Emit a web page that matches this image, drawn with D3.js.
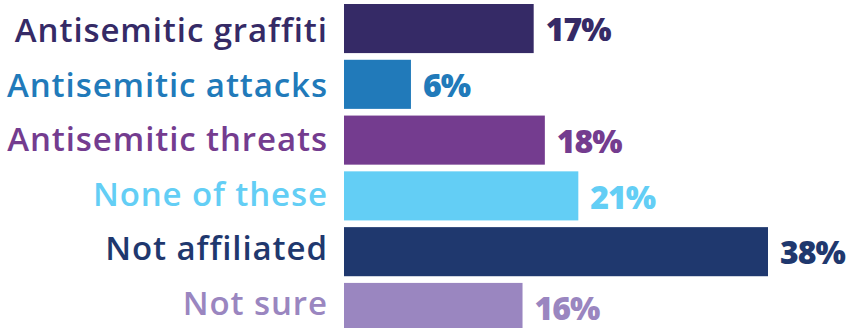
<!DOCTYPE html>
<html>
<head>
<meta charset="utf-8">
<script src="https://cdn.jsdelivr.net/npm/d3@7"></script>
<style>
  html, body { margin: 0; padding: 0; background: #ffffff; }
  svg { display: block; }
  text { font-variant-ligatures: none; }
</style>
</head>
<body>
<svg id="chart" width="859" height="328"></svg>
<script>
const categories = ["Antisemitic graffiti", "Antisemitic attacks", "Antisemitic threats", "None of these", "Not affiliated", "Not sure"];
const values = [17, 6, 18, 21, 38, 16];
const colors = ["#352a66", "#217aba", "#743c8f", "#63cef5", "#1f386e", "#9a86c0"];

const width = 859, height = 328;
const svg = d3.select("#chart");

const x = d3.scaleLinear().domain([0, 38]).range([344, 768]);
const y = d3.scaleBand().domain(categories).range([4, 332]).paddingInner(0.12).paddingOuter(0);
// baselines of the category names run on a slightly tighter rhythm than the bars
const labelY = d3.scalePoint().domain(categories).range([42, 315]);

const rows = categories.map((c, i) => ({ c, v: values[i], col: colors[i] }));

svg.selectAll("rect.bar").data(rows).join("rect")
  .attr("class", "bar")
  .attr("x", x(0))
  .attr("y", d => y(d.c))
  .attr("width", d => x(d.v) - x(0))
  .attr("height", y.bandwidth())
  .attr("fill", d => d.col);

// category names, right-aligned against the bars (letter-spacing trails the last glyph)
const catSpacing = 0.9;
svg.selectAll("text.cat").data(rows).join("text")
  .attr("class", "cat")
  .attr("x", x(0) - 17 + catSpacing)
  .attr("y", d => labelY(d.c))
  .attr("text-anchor", "end")
  .attr("font-family", "'Open Sans', sans-serif")
  .attr("font-weight", 600)
  .attr("font-size", 33)
  .attr("letter-spacing", catSpacing)
  .attr("fill", d => d.col)
  .text(d => d.c);

svg.selectAll("text.val").data(rows).join("text")
  .attr("class", "val")
  .attr("x", d => x(d.v) + 12)
  .attr("y", d => y(d.c) + y.bandwidth() / 2)
  .attr("dy", "0.4em")
  .attr("font-family", "'Open Sans', sans-serif")
  .attr("font-weight", 800)
  .attr("font-size", 32)
  .attr("letter-spacing", -1)
  .attr("fill", d => d.col)
  .text(d => d.v + "%");
</script>
</body>
</html>
